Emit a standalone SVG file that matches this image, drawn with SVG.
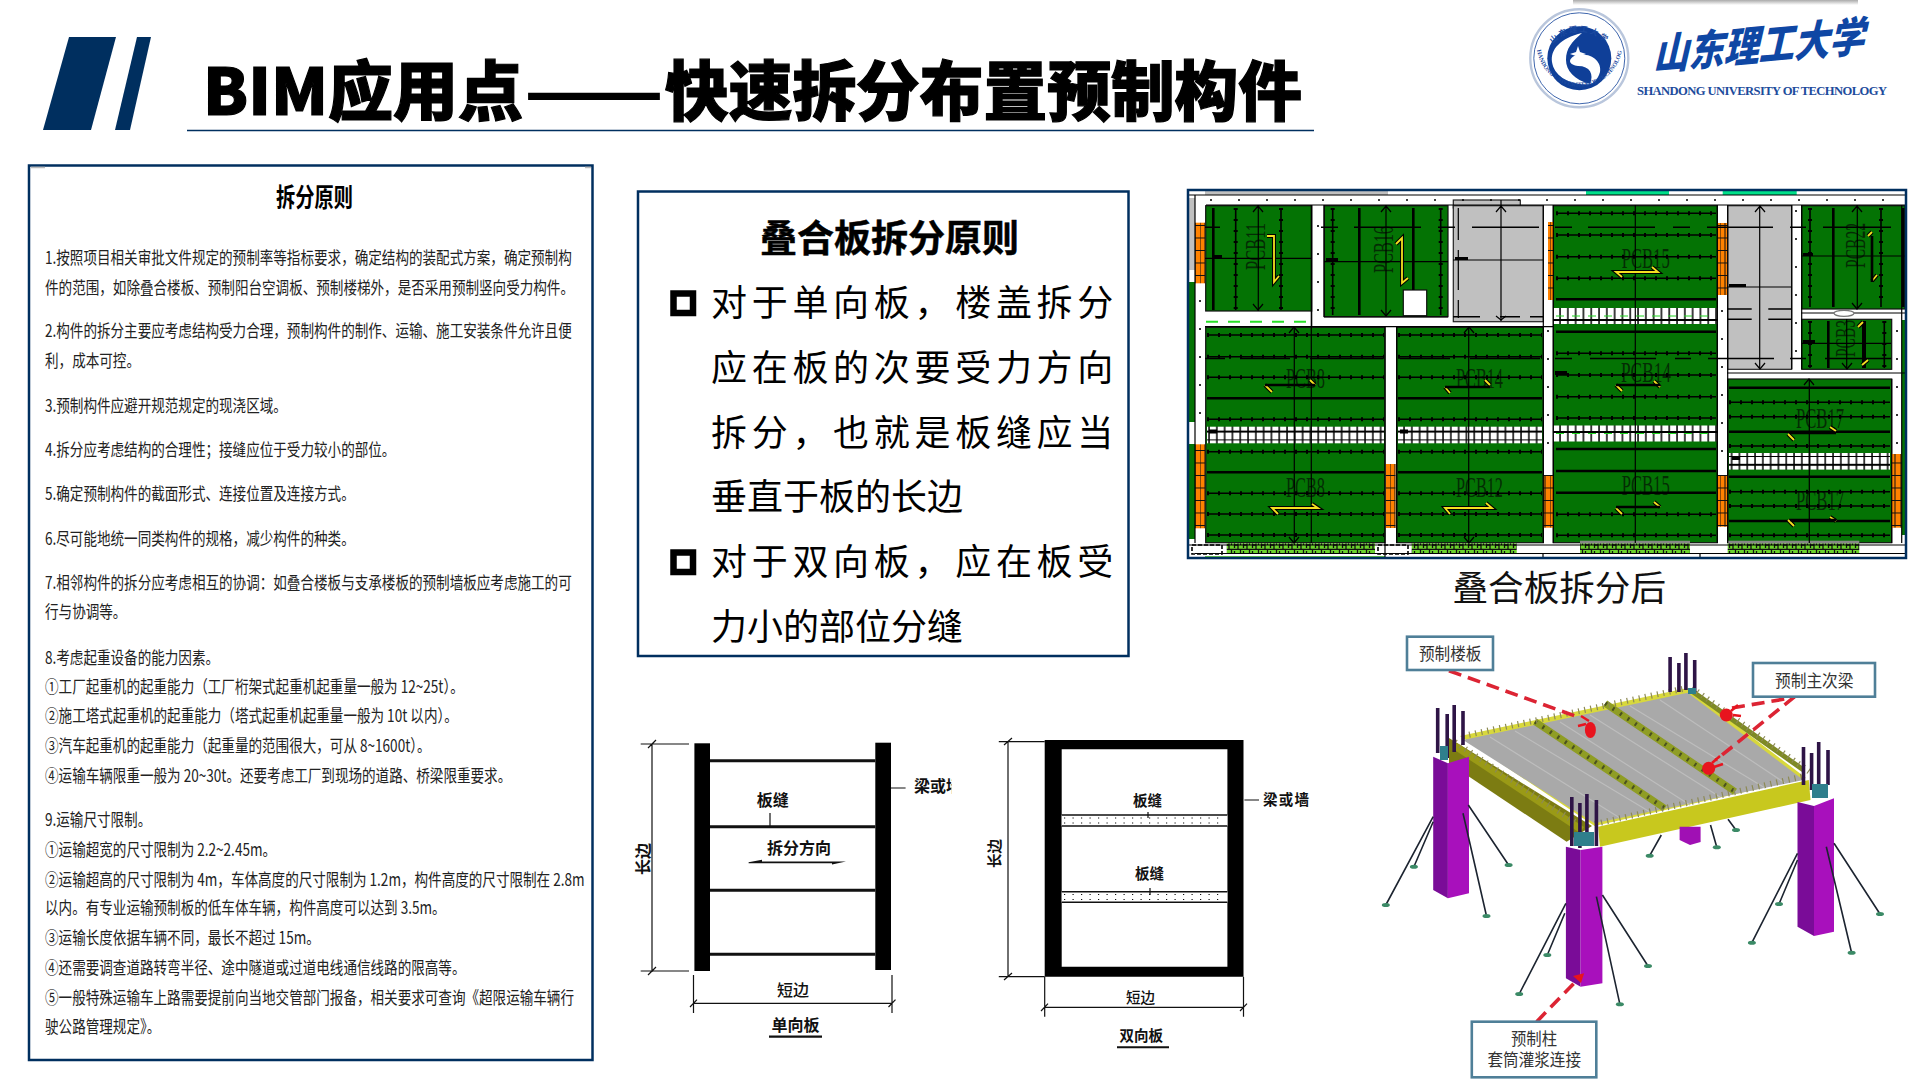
<svg xmlns="http://www.w3.org/2000/svg" width="1920" height="1080" viewBox="0 0 1920 1080">
<style>
text{font-family:"Noto Sans CJK SC","Liberation Sans",sans-serif;fill:#000}
.navy{fill:#002f5f}
.frame{fill:#fff;stroke:#002f5f;stroke-width:2.5}
.pl{font-size:17.4px;fill:#222}
.mid{font-size:36px}
.pcb{font-family:"Liberation Serif",serif;font-size:30px;fill:#042c04}
.panel{fill:#047304;stroke:#111;stroke-width:1.2}
.gray{fill:#c0c0c0;stroke:#222;stroke-width:1.2}
.bk{fill:none;stroke:#000;stroke-width:1.2}
.rb{fill:none;stroke:#000;stroke-width:1.6}
.rt{fill:none;stroke:#000;stroke-width:4;stroke-dasharray:2 9}
.thick{fill:none;stroke:#000;stroke-width:2.6}
.ya{fill:none;stroke:#000;stroke-width:4}
.yb{fill:none;stroke:#f4e020;stroke-width:1.8}
.dl{font-weight:700;font-size:16px;fill:#111}
.dr{font-weight:700;font-size:14.5px;fill:#111}
.ln{fill:none;stroke:#111;stroke-width:1.2}
.hv{fill:none;stroke:#111;stroke-width:3}
.brace{fill:none;stroke:#1c2430;stroke-width:1.6}
.foot{fill:#3b8a66}
.bar{fill:none;stroke:#2e1446;stroke-width:3.6}
.lead{fill:none;stroke:#dc2433;stroke-width:3.6;stroke-dasharray:13 7}
.blob{fill:#e8141e}
.cbox{fill:#fff;stroke:#4f7f98;stroke-width:2.6}
.cl{font-size:17px;fill:#333}
.chk{fill:#fff;stroke:#000;stroke-width:6.5}
</style>
<defs>
<linearGradient id="sh" x1="0" y1="0" x2="0" y2="1"><stop offset="0" stop-color="#aaa"/><stop offset="1" stop-color="#fff"/></linearGradient>
<pattern id="brick" width="10" height="12.5" patternUnits="userSpaceOnUse"><rect width="10" height="12.5" fill="#ff8200"/><path d="M0 .5H10M5 0V12.5M0 0V12.5" stroke="#111" stroke-width="1" fill="none"/></pattern>
<pattern id="cell2" width="7.8" height="16.6" patternUnits="userSpaceOnUse"><rect width="7.8" height="16.6" fill="#000"/><rect x=".8" y="1" width="6.3" height="6.8" fill="#fff"/><rect x=".8" y="8.8" width="6.3" height="6.8" fill="#fff"/></pattern>
<pattern id="cell1" width="7.8" height="16" patternUnits="userSpaceOnUse"><rect width="7.8" height="16" fill="#000"/><rect x=".8" y="1" width="6.3" height="14" fill="#fff"/></pattern>
<pattern id="band" width="9" height="10" patternUnits="userSpaceOnUse"><rect width="9" height="10" fill="#6cd42c"/><path d="M1.5 1V8M5 3V10M7.5 0V5M2 5H5M0 9.500H9" stroke="#111" stroke-width="1.300" fill="none"/></pattern>
<path id="rowsH" d="M1207 335H1384M1207 356.7H1384M1207 377.3H1384M1207 419.3H1384M1207 451.7H1384M1207 493.3H1384M1207 514H1384M1207 535H1384M1398 335H1542M1398 356.7H1542M1398 377.3H1542M1398 419.3H1542M1398 451.7H1542M1398 493.3H1542M1398 514H1542M1398 535H1542M1556 213.3H1716M1556 235H1716M1556 256.7H1716M1556 278.3H1716M1556 353.3H1716M1556 375H1716M1556 396.7H1716M1556 418H1716M1556 514.3H1716M1556 535.3H1716M1729 402.3H1890M1729 416.7H1890M1729 446H1890M1729 491.7H1890M1729 506H1890M1729 535.3H1890"/>
<path id="rowsV" d="M1235.7 208V310M1281 208V310M1332.7 208V315M1440.7 208V315M1810 208V307M1881 208V307M1810 321V368M1884.3 321V368"/>
<clipPath id="cutw"><rect x="900" y="760" width="51.5" height="50"/></clipPath>
<path id="seal-up" d="M1544 62A36 36 0 0 1 1615 62"/>
<path id="seal-dn" d="M1537 50A43 43 0 0 0 1622 50"/>
</defs>
<rect width="1920" height="1080" fill="#fff"/>
<rect x="1573" y="0" width="285" height="5" fill="url(#sh)"/>

<g id="title">
<polygon class="navy" points="69,37 116,37 91,130 43,130"/>
<polygon class="navy" points="137,37 151,37 130,130 115,130"/>
<text x="203" y="115" font-size="65" font-weight="900" stroke="#000" stroke-width="1.2" textLength="320" lengthAdjust="spacingAndGlyphs">BIM应用点</text>
<text x="524" y="115" font-size="65" font-weight="900" textLength="140" lengthAdjust="spacingAndGlyphs">——</text>
<text x="665" y="115" font-size="65" font-weight="900" stroke="#000" stroke-width="1.2" textLength="637" lengthAdjust="spacingAndGlyphs">快速拆分布置预制构件</text>
<path d="M187 130.5H1314" stroke="#002f5f" stroke-width="1.6"/>
</g>

<g id="logo">
<circle cx="1579.3" cy="58.3" r="49" fill="#fff" stroke="#b9c6dc" stroke-width="2.4"/>
<circle cx="1579.3" cy="58.3" r="45.5" fill="none" stroke="#2a56a4" stroke-width=".9"/>
<circle cx="1579.3" cy="58.3" r="32" fill="#0f3f98"/>
<path fill="#fff" d="M1582 33C1560 38 1550 50 1552 62C1554 76 1570 86 1590 84C1574 80 1566 70 1566 60C1566 48 1572 42 1582 33Z"/>
<path fill="#fff" d="M1576 55C1592 52 1602 62 1600 72C1598 80 1592 84 1590 84C1594 74 1590 66 1578 66C1570 65 1566 60 1576 55Z"/>
<path fill="#fff" d="M1578 46L1580 52L1586 54L1580 56L1578 62L1576 56L1570 54L1576 52Z"/>
<text font-size="8" font-weight="700" text-anchor="middle" style="fill:#1b4aa0" letter-spacing="2"><textPath href="#seal-up" startOffset="50%">山东理工大学</textPath></text>
<text font-size="6" font-weight="700" text-anchor="middle" style="font-family:'Liberation Serif',serif;fill:#1b4aa0"><textPath href="#seal-dn" startOffset="50%">SHANDONG UNIVERSITY OF TECHNOLOGY</textPath></text>
<text transform="translate(1653 70) rotate(-5) skewX(-18)" font-size="42" font-weight="900" textLength="212" lengthAdjust="spacingAndGlyphs" style="fill:#0f47a4">山东理工大学</text>
<text x="1637" y="95" font-size="12.6" font-weight="700" textLength="250" style="font-family:'Liberation Serif',serif;fill:#1d4c9c">SHANDONG UNIVERSITY OF TECHNOLOGY</text>
</g>

<g id="left-panel">
<rect class="frame" x="29" y="165.5" width="563.5" height="894.5"/>
<path d="M31 167.5H45M585 167.5H591" stroke="#bbb" stroke-width="1.6"/>
<text transform="translate(314.5 206.5) scale(.74 1)" font-size="26" font-weight="700" text-anchor="middle">拆分原则</text>
<g transform="translate(45 0) scale(.78 1)">
<text class="pl" y="264">1.按照项目相关审批文件规定的预制率等指标要求，确定结构的装配式方案，确定预制构</text>
<text class="pl" y="294">件的范围，如除叠合楼板、预制阳台空调板、预制楼梯外，是否采用预制竖向受力构件。</text>
<text class="pl" y="337.5">2.构件的拆分主要应考虑结构受力合理，预制构件的制作、运输、施工安装条件允许且便</text>
<text class="pl" y="367.5">利，成本可控。</text>
<text class="pl" y="412">3.预制构件应避开规范规定的现浇区域。</text>
<text class="pl" y="456">4.拆分应考虑结构的合理性；接缝应位于受力较小的部位。</text>
<text class="pl" y="500.5">5.确定预制构件的截面形式、连接位置及连接方式。</text>
<text class="pl" y="545.5">6.尽可能地统一同类构件的规格，减少构件的种类。</text>
<text class="pl" y="589">7.相邻构件的拆分应考虑相互的协调：如叠合楼板与支承楼板的预制墙板应考虑施工的可</text>
<text class="pl" y="618">行与协调等。</text>
<text class="pl" y="664">8.考虑起重设备的能力因素。</text>
<text class="pl" y="693">①工厂起重机的起重能力（工厂桁架式起重机起重量一般为 12~25t）。</text>
<text class="pl" y="722.5">②施工塔式起重机的起重能力（塔式起重机起重量一般为 10t 以内）。</text>
<text class="pl" y="752.5">③汽车起重机的起重能力（起重量的范围很大，可从 8~1600t）。</text>
<text class="pl" y="782">④运输车辆限重一般为 20~30t。还要考虑工厂到现场的道路、桥梁限重要求。</text>
<text class="pl" y="826.5">9.运输尺寸限制。</text>
<text class="pl" y="856">①运输超宽的尺寸限制为 2.2~2.45m。</text>
<text class="pl" y="886">②运输超高的尺寸限制为 4m，车体高度的尺寸限制为 1.2m，构件高度的尺寸限制在 2.8m</text>
<text class="pl" y="914.5">以内。有专业运输预制板的低车体车辆，构件高度可以达到 3.5m。</text>
<text class="pl" y="944">③运输长度依据车辆不同，最长不超过 15m。</text>
<text class="pl" y="974.5">④还需要调查道路转弯半径、途中隧道或过道电线通信线路的限高等。</text>
<text class="pl" y="1004.5">⑤一般特殊运输车上路需要提前向当地交管部门报备，相关要求可查询《超限运输车辆行</text>
<text class="pl" y="1033.5">驶公路管理规定》。</text>
</g>
</g>

<g id="mid-panel">
<rect class="frame" x="638" y="191.5" width="490.5" height="464.5"/>
<text x="760" y="252" font-size="37" font-weight="700" stroke="#000" stroke-width=".5">叠合板拆分原则</text>
<rect class="chk" x="673.5" y="293.5" width="19.5" height="19.5"/>
<rect class="chk" x="673.5" y="552.5" width="19.5" height="19.5"/>
<text class="mid" x="711" y="316" letter-spacing="4.7">对于单向板，楼盖拆分</text>
<text class="mid" x="711" y="381" letter-spacing="4.7">应在板的次要受力方向</text>
<text class="mid" x="711" y="446" letter-spacing="4.7">拆分，也就是板缝应当</text>
<text class="mid" x="711" y="510">垂直于板的长边</text>
<text class="mid" x="711" y="575" letter-spacing="4.7">对于双向板，应在板受</text>
<text class="mid" x="711" y="640">力小的部位分缝</text>
</g>

<g id="floor-plan">
<rect x="1188" y="190" width="718" height="368" fill="#fff"/>
<rect x="1188" y="198" width="7" height="72" fill="#c0c0c0"/>
<rect x="1188" y="282" width="7" height="140" fill="#047304"/>
<rect x="1188" y="444" width="7" height="95" fill="#047304"/>
<rect x="1902" y="320" width="4" height="215" fill="#047304"/>
<rect x="1205" y="190" width="183" height="5" fill="#c0c0c0"/>
<rect x="1586" y="190" width="83" height="5" fill="#00e08a"/>
<rect x="1722.7" y="190" width="74" height="5" fill="#00e08a"/>
<rect class="gray" x="1453.3" y="200" width="67" height="8"/>
<g id="panels">
<rect class="panel" x="1205.7" y="205.7" width="106" height="105.3"/>
<rect class="panel" x="1324.3" y="205.7" width="123.7" height="111"/>
<rect class="gray" x="1453.3" y="205.7" width="90" height="116"/>
<rect class="panel" x="1553.3" y="205.7" width="164" height="337"/>
<rect class="gray" x="1727.7" y="205.7" width="64" height="163.6"/>
<rect class="panel" x="1801.7" y="205.7" width="103.3" height="103.3"/>
<rect class="panel" x="1801.7" y="319.3" width="90" height="50"/>
<rect class="panel" x="1727.7" y="379" width="164" height="163.7"/>
<rect class="panel" x="1205.7" y="327.3" width="179.3" height="215.4"/>
<rect class="panel" x="1396.7" y="327.3" width="146.6" height="215.4"/>
</g>
<rect x="1403.3" y="290" width="23.4" height="25.7" fill="#fff" stroke="#111" stroke-width="1.2"/>
<g id="strips">
<rect x="1207" y="426.7" width="177" height="16.6" fill="url(#cell2)"/>
<rect x="1398" y="426.7" width="144" height="16.6" fill="url(#cell2)"/>
<rect x="1553.3" y="308" width="164" height="16" fill="url(#cell1)"/>
<rect x="1553.3" y="425.5" width="164" height="16" fill="url(#cell1)"/>
<rect x="1729" y="453" width="161" height="16.6" fill="url(#cell2)"/>
<path d="M1556 316H1716M1556 433.5H1716" stroke="#20d820" stroke-width="1" stroke-dasharray="8 8" fill="none"/>
<path d="M1209 429.5h8v4h-8zM1400 429.5h8v4h-8zM1732 456h8v4h-8z" fill="#000"/>
</g>
<g id="bricks">
<rect x="1195" y="222.7" width="10" height="60.6" fill="url(#brick)"/>
<rect x="1195" y="444.3" width="10" height="84" fill="url(#brick)"/>
<rect x="1385.7" y="464" width="10" height="64" fill="url(#brick)"/>
<rect x="1543.3" y="475" width="10" height="52.7" fill="url(#brick)"/>
<rect x="1548" y="222" width="5.3" height="78" fill="url(#brick)"/>
<rect x="1717.7" y="223" width="9.8" height="72" fill="url(#brick)"/>
<rect x="1717.7" y="475" width="9.8" height="51.7" fill="url(#brick)"/>
<rect x="1891.7" y="454" width="10" height="73.7" fill="url(#brick)"/>
</g>
<g id="bands">
<rect x="1226.7" y="543.3" width="148.3" height="10" fill="url(#band)"/>
<rect x="1411.7" y="543.3" width="105" height="10" fill="url(#band)"/>
<rect x="1580" y="543.3" width="110" height="10" fill="url(#band)"/>
<rect x="1727.7" y="543.3" width="131.6" height="10" fill="url(#band)"/>
<rect x="1580" y="540.7" width="110" height="2.6" fill="#888"/>
<rect x="1727.7" y="540.7" width="131.6" height="2.6" fill="#888"/>
<path d="M1205 556.7H1385" stroke="#6fd84a" stroke-width="1.6"/>
<path d="M1192 545h30v9h-30zM1378 545h30v9h-30z" fill="none" stroke="#000" stroke-width="1.6" stroke-dasharray="4 2"/>
</g>
<g id="walls">
<path class="bk" d="M1205 326.7H1553M1324 317H1448M1311.700 205V326M1324 205V317M1385 327V543M1396.700 327V543M1543.300 205V543M1553.300 205V543M1717.300 205V543M1727.700 205V543M1791.700 205V369M1801.700 205V369M1727 373H1905M1801 313H1905M1195 553.500H1906M1188 545H1906M1891.700 379V543M1901.700 205V543M1206 205H1905M1385 543V558M1543 553V558M1700 553V558"/>
</g>
<g id="pcb-labels">
<text class="pcb" transform="translate(1265 270) rotate(-90)" textLength="47" lengthAdjust="spacingAndGlyphs">PCB11</text>
<text class="pcb" transform="translate(1393 273) rotate(-90)" textLength="47" lengthAdjust="spacingAndGlyphs">PCB16</text>
<text class="pcb" x="1621.7" y="268" textLength="48" lengthAdjust="spacingAndGlyphs">PCB15</text>
<text class="pcb" x="1621" y="381.5" textLength="50" lengthAdjust="spacingAndGlyphs">PCB14</text>
<text class="pcb" x="1621.7" y="495" textLength="48" lengthAdjust="spacingAndGlyphs">PCB15</text>
<text class="pcb" transform="translate(1865 268) rotate(-90)" textLength="45" lengthAdjust="spacingAndGlyphs">PCB22</text>
<text class="pcb" transform="translate(1855 357) rotate(-90)" textLength="37" lengthAdjust="spacingAndGlyphs">PCB3</text>
<text class="pcb" x="1796" y="428" textLength="48" lengthAdjust="spacingAndGlyphs">PCB17</text>
<text class="pcb" x="1796" y="510" textLength="48" lengthAdjust="spacingAndGlyphs">PCB17</text>
<text class="pcb" x="1286" y="388" textLength="39" lengthAdjust="spacingAndGlyphs">PCB8</text>
<text class="pcb" x="1286" y="496.5" textLength="39" lengthAdjust="spacingAndGlyphs">PCB8</text>
<text class="pcb" x="1456" y="388" textLength="47" lengthAdjust="spacingAndGlyphs">PCB14</text>
<text class="pcb" x="1456" y="496.5" textLength="47" lengthAdjust="spacingAndGlyphs">PCB12</text>
</g>
<use href="#rowsH" class="rb"/><use href="#rowsH" class="rt"/>
<use href="#rowsV" class="rb"/><use href="#rowsV" class="rt"/>
<path class="thick" d="M1207 398.3H1384M1207 472.3H1384M1398 398.3H1542M1398 472.3H1542M1556 299.3H1716M1556 331.7H1716M1556 449H1716M1556 471H1716M1556 492.7H1716M1729 387.7H1890M1729 431.7H1890M1729 476.7H1890M1729 521H1890M1213.3 208V310M1359.3 208V315M1413.3 208V290M1833.3 208V307M1903.3 208V307M1828.3 321V368"/>
<path d="M1864 321V368" stroke="#000" stroke-width="4"/>
<path class="bk" d="M1294.3 327.3V543M1311.3 205V543M1468.7 327.3V543M1635.3 205V543M1809.3 379V543M1258.3 205V311M1386 205V316M1501 200V321M1759.7 205V369M1857.3 205V309M1846.7 319V369M1205 258.3H1311M1324 261.7H1448M1453 260H1543M1727 287H1792M1802 256H1905M1802 343.3H1891M1195 195V543"/>
<path fill="none" stroke="#000" stroke-width="1.4" d="M1205 227.3H1220M1321 227.3H1338M1354 227.3H1421M1438 227.3H1455M1472 227.3H1539M1555 227.3H1572M1588 227.3H1655M1673 227.3H1690M1707 227.3H1773M1790 227.3H1806M1823 227.3H1891M1205 358.5H1225M1240 358.5H1290M1310 358.5H1383M1400 358.5H1450M1470 358.5H1540M1555 358.5H1572M1590 358.5H1656M1675 358.5H1691M1708 358.5H1774M1790 358.5H1806M1825 358.5H1891M1727.7 309H1751.7M1768.3 309H1791.7M1727.7 319.3H1751.7M1768.3 319.3H1791.7M1453 316.7H1480M1500 316.7H1520M1530 316.7H1543"/>
<path class="bk" d="M1458.3 208V240M1458.3 250V290M1458.3 300V318M1188 195H1906M1253 212L1258 206L1263 212M1253 304L1258 310L1263 304M1381 212L1386 206L1391 212M1381 310L1386 316L1391 310M1496 212L1501 206L1506 212M1496 316L1501 320L1506 316M1755 212L1760 206L1765 212M1755 363L1760 369L1765 363M1852 212L1857 206L1862 212M1852 303L1857 309L1862 303M1289 333L1294 327L1299 333M1289 537L1294 543L1299 537M1464 333L1469 327L1474 333M1464 537L1469 543L1474 537M1804 385L1809 379L1814 385M1842 363L1847 369L1852 363"/>
<path fill="none" stroke="#000" stroke-width="1.6" stroke-dasharray="2 26" d="M1210 200H1900M1318 225V320M1548 330V450M1722 310V460M1796 210V370M1897 330V450M1200 300V420"/>
<path stroke="#28e028" stroke-width="2" stroke-dasharray="12 10" d="M1206 321.7H1311"/>
<ellipse cx="1844" cy="313.3" rx="10" ry="3" fill="#fff" stroke="#777" stroke-width="1.2"/>
<path d="M1212 255h10v3h-10zM1326 258h12v3.700h-12zM1455 257h13v3h-13zM1729 284h17v3h-17zM1803 253h10v3h-10zM1803 340h12v3h-12zM1555 371h12v4h-12z" fill="#000"/>
<g id="arrows">
<path class="ya" d="M1267 236L1274 236V282L1279 276"/>
<path class="yb" d="M1267 236L1274 236V282L1279 276"/>
<path class="ya" d="M1396 244L1402 238V283L1408 278"/>
<path class="yb" d="M1396 244L1402 238V283L1408 278"/>
<path class="ya" d="M1278 514L1272 508H1318L1312 504"/>
<path class="yb" d="M1278 514L1272 508H1318L1312 504"/>
<path class="ya" d="M1450 514L1445 508H1492L1486 503"/>
<path class="yb" d="M1450 514L1445 508H1492L1486 503"/>
<path class="ya" d="M1622 277L1616 272H1658L1652 267"/>
<path class="yb" d="M1622 277L1616 272H1658L1652 267"/>
<path class="ya" d="M1272 392L1265 385M1315 385L1310 380M1445 387L1450 393M1490 385L1485 380M1616 385L1622 391M1660 387L1654 381M1616 508L1622 514M1660 507L1654 502M1788 434L1794 440M1836 431L1830 427M1788 520L1794 526M1836 521L1830 517M1868 236L1872 232M1872 281L1877 275M1858 327L1863 322M1862 365L1868 360"/>
<path class="yb" d="M1272 392L1265 385M1315 385L1310 380M1445 387L1450 393M1490 385L1485 380M1616 385L1622 391M1660 387L1654 381M1616 508L1622 514M1660 507L1654 502M1788 434L1794 440M1836 431L1830 427M1788 520L1794 526M1836 521L1830 517M1868 236L1872 232M1872 281L1877 275M1858 327L1863 322M1862 365L1868 360"/>
<path class="thick" d="M1265 385H1315M1445 387H1490M1616 385H1660M1616 507H1660M1790 433H1836M1790 520H1836M1872 236V282"/>
</g>
<rect x="1188" y="190" width="718" height="368" fill="none" stroke="#002f5f" stroke-width="2.5"/>
<text x="1452.5" y="601" font-size="35.6" font-weight="400" style="fill:#111">叠合板拆分后</text>
</g>

<g id="one-way">
<rect x="694.4" y="743.300" width="15.600" height="227.700" fill="#000"/>
<rect x="875.300" y="742.700" width="15.700" height="227.300" fill="#000"/>
<path class="hv" d="M710 760.700H875.300M710 826.700H875.300M710 890.300H875.300M710 954.300H875.300"/>
<path class="ln" d="M652 744V972M640.700 744H689M640.700 971H689M648 748L656 740M648 975L656 967M770 813V826M891 788H905.600M693.500 975V1013M892 975V1013M693.500 1003.300H892M690 1007L697 999.600M888.500 1007L895.500 999.600"/>
<path d="M748.600 862.300L762 859.800V861.500H846L832 864.500V863.200H748.600Z" fill="#111"/>
<path d="M769 1036.700H822" stroke="#111" stroke-width="2.2"/>
<text class="dl" transform="translate(649 875) rotate(-90)" textLength="32">长边</text>
<text class="dl" x="756.800" y="806">板缝</text>
<text class="dl" x="767" y="854">拆分方向</text>
<text class="dl" x="777" y="996" style="font-weight:500">短边</text>
<text class="dl" x="771.500" y="1031">单向板</text>
<g clip-path="url(#cutw)"><text class="dl" x="914" y="792">梁或墙</text></g>
</g>

<g id="two-way">
<path fill-rule="evenodd" fill="#000" d="M1044.700 740H1243.500V976.700H1044.700ZM1061.700 749.300V966.700H1227.400V749.300Z"/>
<rect x="1061.700" y="815" width="165.700" height="11" fill="#fff"/>
<rect x="1061.700" y="891.700" width="165.700" height="10.600" fill="#fff"/>
<path d="M1061.700 815H1227.400M1061.700 826H1227.400M1061.700 891.700H1227.400M1061.700 902.300H1227.400" stroke="#111" stroke-width="1.500"/>
<path d="M1064 818H1225M1064 823H1225M1064 894.500H1225M1064 899.500H1225" stroke="#111" stroke-width="1.200" stroke-dasharray="1.200 7.300" fill="none"/>
<path class="ln" d="M1008 741.700V976.700M998.800 741.700H1044.700M998.800 976.700H1044.700M1004 745L1012 738M1004 980L1012 973M1148 812V818M1150 888V895M1244.400 800H1259M1044.700 976.700V1016.700M1243.500 976.700V1016.700M1044.700 1007.300H1243.500M1041 1011L1048 1003.600M1240 1011L1247 1003.600"/>
<path d="M1117 1047.300H1169" stroke="#111" stroke-width="2"/>
<text class="dr" transform="translate(1000 868) rotate(-90)">长边</text>
<text class="dr" x="1133" y="806">板缝</text>
<text class="dr" x="1135" y="879">板缝</text>
<text class="dr" x="1263" y="805" textLength="46">梁或墙</text>
<text class="dr" x="1126" y="1003" style="font-weight:500">短边</text>
<text class="dr" x="1119.500" y="1041">双向板</text>
</g>

<g id="structure">
<g id="slab">
<polygon points="1449,738 1449,763.300 1566.600,841.700 1592,826" fill="#7c7c12"/>
<polygon points="1598.200,826.700 1808.800,780 1810.500,800 1599.900,846.700" fill="#c8c81e"/>
<polygon points="1460,736 1687.700,688 1806,778 1594.600,826" fill="#d8d83c"/>
<polygon points="1463,740 1687.700,692.700 1803.500,780 1594.600,823.300" fill="#a9a9a9"/>
<path d="M1490 737L1620 818M1515 731L1650 812M1560 722L1690 805M1590 715L1720 797M1630 706L1765 788M1660 700L1785 783" stroke="#bdbdbd" stroke-width="1.200" fill="none"/>
<path d="M1535 721.700L1664.800 808.300M1605.200 703.300L1735 791.700" stroke="#8f9d24" stroke-width="7" fill="none"/>
<path d="M1535 721.700L1664.800 808.300M1605.200 703.300L1735 791.700" stroke="#4a5020" stroke-width="4" stroke-dasharray="2 7" fill="none"/>
<path d="M1455 746L1582 830" stroke="#9a9a16" stroke-width="7" fill="none"/>
<path d="M1692.900 691.700L1803.500 770" stroke="#7e8a24" stroke-width="5" fill="none"/>
<path d="M1463 736L1687 688M1595 824L1805 776M1692 688L1810 772M1455 742L1575 822" stroke="#8d8a55" stroke-width="6" stroke-dasharray="1.200 5" fill="none"/>
</g>
<g id="columns">
<polygon points="1679.600,826.700 1700.600,826.700 1700.600,842 1690,845 1679.600,840" fill="#a010b4"/>
<polygon points="1433.200,756.700 1447.900,763.300 1447.900,898.300 1433.200,890" fill="#7a0c98"/>
<polygon points="1447.900,763.300 1469,756.700 1469,893.300 1447.900,898.300" fill="#a810bc"/>
<polygon points="1565.900,846.700 1580.600,850 1580.600,986.700 1565.900,978.300" fill="#7a0c98"/>
<polygon points="1580.600,850 1602.400,846.700 1602.400,983.300 1580.600,986.700" fill="#a810bc"/>
<polygon points="1797.500,802 1814,806 1814,936 1797.500,926.700" fill="#7a0c98"/>
<polygon points="1814,806 1834,798.300 1834,931.700 1814,936" fill="#a810bc"/>
</g>
<g id="column-bars">
<path class="bar" d="M1437.700 708V753M1447.200 714V758M1454.200 705V752M1463 711V745M1571.800 797V846M1579.900 803V848M1586.900 794V846M1596.400 800V846M1670.100 657V692M1678.900 663V692M1685.900 653V690M1694.700 660V692M1803.500 747V785M1811.600 753V790M1818.700 742V790M1828 750V785"/>
<path d="M1440 746h8v14h-8zM1574 832h20v14h-20zM1688 688h8v6h-8zM1812 784h16v14h-16z" fill="#2f7f8c"/>
</g>
<g id="braces">
<path class="brace" d="M1433.200 816.700L1385.800 905M1433.200 821.700L1413.900 866.700M1468.300 805L1508.600 865M1463 813.300L1486.500 916M1565.900 903.300L1519.200 994M1564.800 913.300L1547.300 955M1602.400 895L1648 966M1596.400 896.700L1619.900 1004.300M1797.500 853.300L1751.900 942.700M1797.500 860L1779 904M1834 843.300L1880 914M1826.300 846.700L1851.600 952.700M1661.300 835L1649.700 855.700M1710.500 825L1716.800 847.300M1728 819.300L1736 830"/>
<g class="foot"><ellipse cx="1385.800" cy="905" rx="4" ry="2"/><ellipse cx="1413.900" cy="866.700" rx="4" ry="2"/><ellipse cx="1508.600" cy="865" rx="4" ry="2"/><ellipse cx="1486.500" cy="916" rx="4" ry="2"/><ellipse cx="1519.200" cy="994" rx="4" ry="2"/><ellipse cx="1547.300" cy="955" rx="4" ry="2"/><ellipse cx="1648" cy="966" rx="4" ry="2"/><ellipse cx="1619.900" cy="1004.300" rx="4" ry="2"/><ellipse cx="1751.900" cy="942.700" rx="4" ry="2"/><ellipse cx="1779" cy="904" rx="4" ry="2"/><ellipse cx="1880" cy="914" rx="4" ry="2"/><ellipse cx="1851.600" cy="952.700" rx="4" ry="2"/><ellipse cx="1649.700" cy="855.700" rx="4" ry="2"/><ellipse cx="1716.800" cy="847.300" rx="4" ry="2"/><ellipse cx="1736" cy="830" rx="4" ry="2"/></g>
</g>
<g id="callouts">
<path class="lead" d="M1449 670.700L1577 716.700M1732 708L1794.700 697.300M1794.700 696.700L1715.700 760M1536.700 1021.700L1580 977"/>
<ellipse class="blob" cx="1590.400" cy="730" rx="5.500" ry="8"/>
<circle class="blob" cx="1726.300" cy="715" r="6.500"/>
<circle class="blob" cx="1708.700" cy="768.300" r="6.500"/>
<path d="M1589 721L1581 716M1586 724L1578 726M1731 711L1738 705M1733 715L1741 716M1712 763L1720 756M1714 767L1723 764" stroke="#e8141e" stroke-width="2.500" fill="none"/>
<path d="M1584.100 973.300L1573 976L1581 983Z" fill="#e8141e"/>
<g id="c-slab"><rect class="cbox" x="1407" y="636.700" width="86" height="33.300"/><text class="cl" x="1419" y="659.500" textLength="62.500" lengthAdjust="spacingAndGlyphs">预制楼板</text></g>
<g id="c-beam"><rect class="cbox" x="1753" y="663" width="122" height="33.700"/><text class="cl" x="1775" y="687" textLength="78.500" lengthAdjust="spacingAndGlyphs">预制主次梁</text></g>
<g id="c-col"><rect class="cbox" x="1471.800" y="1021.700" width="124.500" height="55.600"/><text class="cl" x="1511" y="1045" textLength="46" lengthAdjust="spacingAndGlyphs">预制柱</text><text class="cl" x="1487.500" y="1065.500" textLength="93.500" lengthAdjust="spacingAndGlyphs">套筒灌浆连接</text></g>
</g>
</g>
</svg>
